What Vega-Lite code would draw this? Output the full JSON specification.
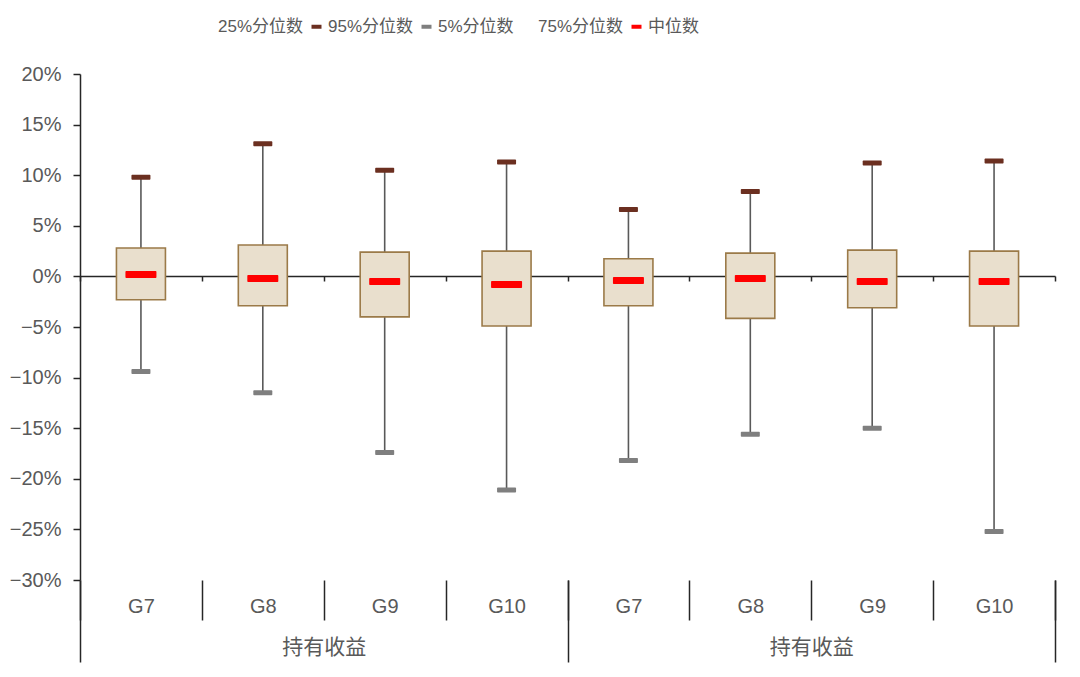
{
  "$schema": "https://vega.github.io/schema/vega-lite/v6.json",
  "width": 975,
  "height": 506,
  "autosize": {"type": "none"},
  "padding": {"left": 80, "top": 74, "right": 25, "bottom": 97},
  "background": "white",
  "layer": [
    {
      "data": {"values": [
        {"id": "A-G7", "p5": -0.094, "p25": -0.023, "med": 0.002, "p75": 0.028, "p95": 0.098},
        {"id": "A-G8", "p5": -0.115, "p25": -0.029, "med": -0.002, "p75": 0.031, "p95": 0.131},
        {"id": "A-G9", "p5": -0.174, "p25": -0.040, "med": -0.005, "p75": 0.024, "p95": 0.105},
        {"id": "A-G10", "p5": -0.211, "p25": -0.049, "med": -0.008, "p75": 0.025, "p95": 0.113},
        {"id": "B-G7", "p5": -0.182, "p25": -0.029, "med": -0.004, "p75": 0.0175, "p95": 0.066},
        {"id": "B-G8", "p5": -0.156, "p25": -0.0415, "med": -0.002, "p75": 0.023, "p95": 0.084},
        {"id": "B-G9", "p5": -0.150, "p25": -0.031, "med": -0.005, "p75": 0.026, "p95": 0.112},
        {"id": "B-G10", "p5": -0.252, "p25": -0.049, "med": -0.005, "p75": 0.025, "p95": 0.114}
      ]},
      "encoding": {
        "x": {
          "field": "id",
          "type": "nominal",
          "sort": null,
          "scale": {"paddingInner": 0, "paddingOuter": 0},
          "axis": {
            "orient": "bottom",
            "title": null,
            "domain": false,
            "tickBand": "extent",
            "tickSize": 40,
            "tickColor": "#262626",
            "tickWidth": 1.5,
            "labelAngle": 0,
            "labelPadding": -24,
            "labelFontSize": 20,
            "labelExpr": "datum.label ? slice(datum.label, 2) : ''"
          }
        }
      },
      "layer": [
        {
          "mark": {"type": "rule", "color": "#595959", "strokeWidth": 1.6},
          "encoding": {
            "y": {
              "field": "p5",
              "type": "quantitative",
              "scale": {"domain": [-0.3, 0.2], "nice": false, "zero": false},
              "axis": {
                "title": null,
                "format": ".0%",
                "values": [-0.3, -0.25, -0.2, -0.15, -0.1, -0.05, 0, 0.05, 0.1, 0.15, 0.2],
                "domainColor": "#262626",
                "domainWidth": 1.5,
                "tickColor": "#262626",
                "tickWidth": 1.5,
                "tickSize": 7,
                "labelPadding": 12,
                "labelFontSize": 20
              }
            },
            "y2": {"field": "p95"}
          }
        },
        {
          "mark": {"type": "bar", "width": 49, "fill": "#E9DFCD", "stroke": "#9B7A48", "strokeWidth": 1.6, "opacity": 1},
          "encoding": {
            "y": {"field": "p75", "type": "quantitative", "title": null},
            "y2": {"field": "p25"}
          }
        },
        {
          "mark": {"type": "tick", "size": 19, "thickness": 5, "cornerRadius": 1, "opacity": 1},
          "encoding": {
            "y": {"field": "p95", "type": "quantitative", "title": null},
            "color": {"datum": "95%分位数"}
          }
        },
        {
          "mark": {"type": "tick", "size": 19, "thickness": 5, "cornerRadius": 1, "opacity": 1},
          "encoding": {
            "y": {"field": "p5", "type": "quantitative", "title": null},
            "color": {"datum": "5%分位数"}
          }
        },
        {
          "mark": {"type": "tick", "size": 31, "thickness": 7, "cornerRadius": 1, "opacity": 1},
          "encoding": {
            "y": {"field": "med", "type": "quantitative", "title": null},
            "color": {
              "datum": "中位数",
              "scale": {
                "domain": ["25%分位数", "95%分位数", "5%分位数", "75%分位数", "中位数"],
                "range": ["rgba(0,0,0,0)", "#6B2F20", "#7F7F7F", "rgba(0,0,0,0)", "#FF0000"]
              },
              "legend": {
                "orient": "none",
                "legendX": 118,
                "legendY": -56,
                "direction": "horizontal",
                "title": null,
                "symbolType": "M-1,-0.4H1V0.4H-1Z",
                "symbolSize": 100,
                "symbolStrokeWidth": 0,
                "symbolOpacity": 1,
                "labelFontSize": 17,
                "labelColor": "#595959",
                "labelOffset": 3,
                "columnPadding": 4
              }
            }
          }
        }
      ]
    },
    {
      "data": {"values": [
        {"id": "A-G7"}, {"id": "A-G8"}, {"id": "A-G9"}, {"id": "A-G10"},
        {"id": "B-G7"}, {"id": "B-G8"}, {"id": "B-G9"}, {"id": "B-G10"}
      ]},
      "mark": {"type": "point", "opacity": 0},
      "encoding": {
        "x": {
          "field": "id",
          "type": "nominal",
          "sort": null,
          "scale": {"paddingInner": 0, "paddingOuter": 0},
          "axis": {
            "orient": "bottom",
            "offset": -304,
            "title": null,
            "labels": false,
            "domain": true,
            "domainColor": "#262626",
            "domainWidth": 1.6,
            "tickBand": "extent",
            "tickSize": 5,
            "tickColor": "#262626",
            "tickWidth": 1.5
          }
        }
      }
    },
    {
      "data": {"values": [{"grp": "A"}, {"grp": "B"}]},
      "mark": {"type": "point", "opacity": 0},
      "encoding": {
        "x": {
          "field": "grp",
          "type": "nominal",
          "sort": null,
          "scale": {"paddingInner": 0, "paddingOuter": 0},
          "axis": {
            "orient": "bottom",
            "title": null,
            "domain": false,
            "tickBand": "extent",
            "tickSize": 82,
            "tickColor": "#262626",
            "tickWidth": 1.5,
            "labelAngle": 0,
            "labelPadding": -26,
            "labelFontSize": 21,
            "labelExpr": "datum.label ? '持有收益' : ''"
          }
        }
      }
    }
  ],
  "resolve": {"scale": {"x": "independent"}},
  "config": {
    "view": {"stroke": null},
    "font": "'Liberation Sans', 'Noto Sans CJK SC', sans-serif",
    "axis": {"grid": false, "labelColor": "#595959", "labelFont": "'Liberation Sans', 'Noto Sans CJK SC', sans-serif"},
    "legend": {"labelFont": "'Liberation Sans', 'Noto Sans CJK SC', sans-serif"}
  }
}
